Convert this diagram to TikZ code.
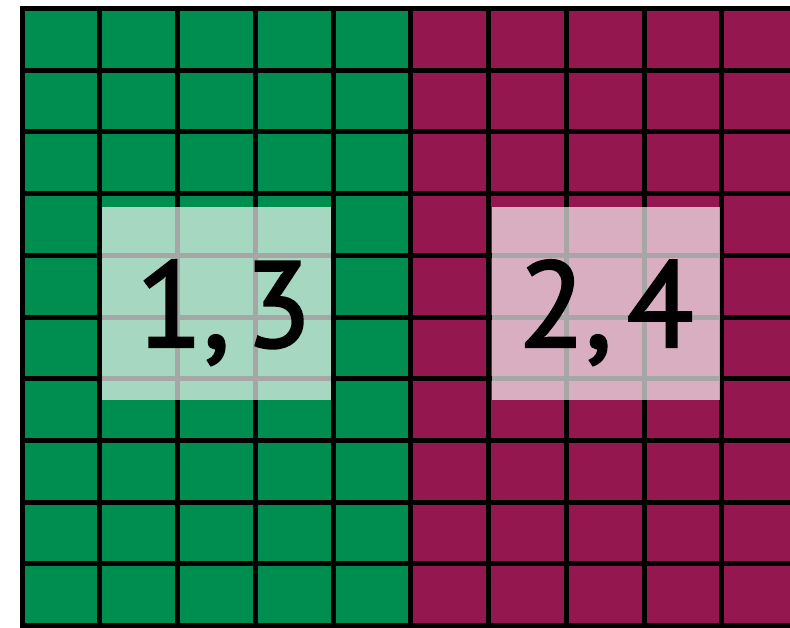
\documentclass[tikz,border=0pt]{standalone}
\usepackage{fontspec}
\setmainfont{PT Sans}
\newfontfamily\digitfont[FakeBold=2]{PT Sans}
\definecolor{gridgreen}{RGB}{0,142,80}
\definecolor{gridmaroon}{RGB}{149,23,79}
\tikzset{
  gridline/.style={line width=5pt, black},
  veil/.style={fill=white, fill opacity=0.65, draw=none},
  bigtext/.style={anchor=base, text=black, inner sep=0pt, font=\digitfont\fontsize{122}{122}\selectfont}
}
\begin{document}
\begin{tikzpicture}[x=1pt, y=-1pt]
\useasboundingbox (0,0) rectangle (790,627);
\begin{scope}
\clip (0,0) rectangle (790,627);
\fill[gridgreen] (22,8.5) rectangle (410.75,626);
\fill[gridmaroon] (410.75,8.5) rectangle (810,626);
\foreach \i in {0,...,10} {
  \draw[gridline] ({22+\i*77.75},6) -- ({22+\i*77.75},630);
}
\foreach \j in {0,...,10} {
  \draw[gridline] (19.5,{8.5+\j*61.72}) -- (810,{8.5+\j*61.72});
}
\end{scope}
\fill[veil] (102.3,207.3) rectangle (330.7,400);
\fill[veil] (492.3,207.3) rectangle (720,400);
\node[bigtext] (left) at (224,347) {1,\hspace{0.12em}3};
\node[bigtext] (right) at (606,347) {2,\hspace{0.12em}4};
\end{tikzpicture}
\end{document}
